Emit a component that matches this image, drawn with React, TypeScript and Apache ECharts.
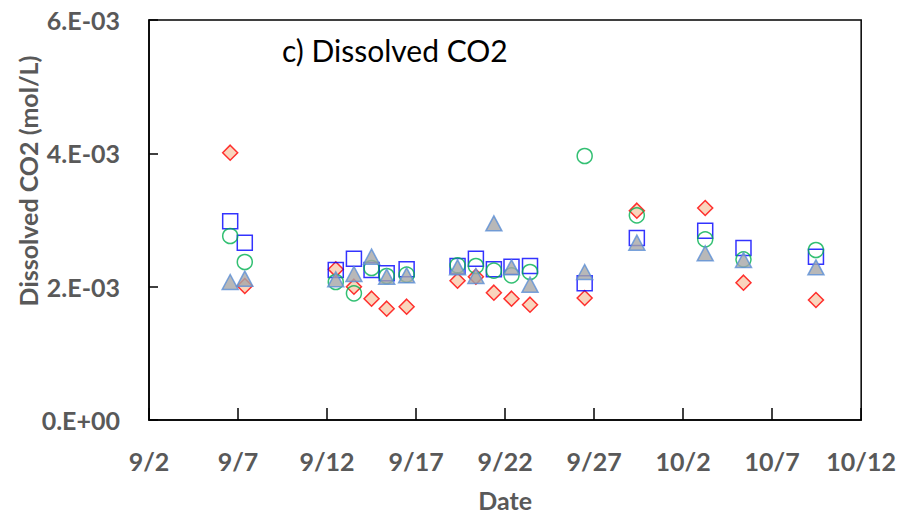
import React, { useEffect, useRef } from "react";
import * as echarts from "echarts";

// Sampling times, days since 9/2 (fractional = time of day)
const sampleDays = [4.56, 5.38, 10.49, 11.51, 12.5, 13.35, 14.47, 17.33, 18.36, 19.37, 20.36, 21.4, 24.47, 27.4, 31.24, 33.39, 37.46];

// Dissolved CO2 (mol/L), four sampling points
const seriesA = [4.01e-3, 2.01e-3, 2.26e-3, 2.0e-3, 1.82e-3, 1.67e-3, 1.7e-3, 2.09e-3, 2.15e-3, 1.91e-3, 1.82e-3, 1.73e-3, 1.83e-3, 3.14e-3, 3.18e-3, 2.06e-3, 1.8e-3];
const seriesB = [2.98e-3, 2.66e-3, 2.25e-3, 2.42e-3, 2.25e-3, 2.2e-3, 2.26e-3, 2.31e-3, 2.42e-3, 2.26e-3, 2.3e-3, 2.31e-3, 2.05e-3, 2.73e-3, 2.84e-3, 2.58e-3, 2.45e-3];
const seriesC = [2.76e-3, 2.37e-3, 2.07e-3, 1.9e-3, 2.28e-3, 2.16e-3, 2.18e-3, 2.32e-3, 2.31e-3, 2.24e-3, 2.17e-3, 2.22e-3, 3.96e-3, 3.07e-3, 2.71e-3, 2.41e-3, 2.55e-3];
const seriesD = [2.07e-3, 2.12e-3, 2.11e-3, 2.19e-3, 2.45e-3, 2.15e-3, 2.17e-3, 2.29e-3, 2.16e-3, 2.95e-3, 2.29e-3, 2.03e-3, 2.22e-3, 2.66e-3, 2.5e-3, 2.4e-3, 2.29e-3];

const xMin = 0;
const xMax = 40;
const xInterval = 5;
const yMin = 0;
const yMax = 6e-3;
const yInterval = 2e-3;
const startMonth = 8; // September (0-based)
const startDay = 2;

const FONT = "Lato";
const LABEL_COLOR = "#595959";

function sciLabel(v: number): string {
  if (Math.abs(v) < 1e-12) return "0.E+00";
  const exp = Math.floor(Math.log10(Math.abs(v)) + 1e-9);
  const mant = Math.round(v / Math.pow(10, exp));
  const sign = exp < 0 ? "-" : "+";
  const e = Math.abs(exp).toString().padStart(2, "0");
  return `${mant}.E${sign}${e}`;
}

function dateLabel(v: number): string {
  const d = new Date(2023, startMonth, startDay + Math.round(v));
  return `${d.getMonth() + 1}/${d.getDate()}`;
}

function pairs(vals: number[]) {
  return sampleDays.map((x, i) => [x, vals[i]]);
}

export default function App() {
  const ref = useRef<HTMLDivElement>(null);
  useEffect(() => {
    if (!ref.current) return;
    const chart = echarts.init(ref.current, undefined, { renderer: "svg" });
    const option: any = {
      animation: false,
      backgroundColor: "#ffffff",
      grid: {
        left: 149,
        right: 36,
        top: 20,
        bottom: 92,
        show: true,
        borderColor: "#000",
        borderWidth: 1.5,
        backgroundColor: "transparent",
      },
      xAxis: {
        type: "value",
        min: xMin,
        max: xMax,
        interval: xInterval,
        name: "Date",
        nameLocation: "middle",
        nameGap: 67,
        nameTextStyle: { fontFamily: FONT, fontWeight: "bold", fontSize: 25, color: LABEL_COLOR },
        axisLine: { show: true, lineStyle: { color: "#000", width: 1.5 } },
        axisTick: { show: true, inside: true, length: 12, lineStyle: { color: "#000", width: 1.5 } },
        splitLine: { show: false },
        axisLabel: {
          formatter: (v: number) => dateLabel(v),
          fontFamily: FONT,
          fontWeight: "bold",
          fontSize: 25,
          color: LABEL_COLOR,
          margin: 28,
        },
      },
      yAxis: {
        type: "value",
        min: yMin,
        max: yMax,
        interval: yInterval,
        axisLine: { show: true, lineStyle: { color: "#000", width: 1.5 } },
        axisTick: { show: true, inside: true, length: 9, lineStyle: { color: "#000", width: 1.5 } },
        splitLine: { show: false },
        axisLabel: {
          formatter: (v: number) => sciLabel(v),
          fontFamily: FONT,
          fontWeight: "bold",
          fontSize: 25,
          color: LABEL_COLOR,
          margin: 29,
        },
      },
      graphic: [
        {
          type: "text",
          left: 282,
          top: 35,
          style: { text: "c) Dissolved CO2", fontFamily: FONT, fontSize: 30, fill: "#000" },
        },
        {
          type: "text",
          x: 28,
          y: 181,
          rotation: Math.PI / 2,
          style: {
            text: "Dissolved CO2 (mol/L)",
            fontFamily: FONT,
            fontWeight: "bold",
            fontSize: 25,
            fill: LABEL_COLOR,
            align: "center",
            verticalAlign: "middle",
          },
        },
      ],
      series: [
        {
          type: "scatter",
          data: pairs(seriesA),
          symbol: "diamond",
          symbolSize: 15,
          itemStyle: { color: "#F8CBAD", borderColor: "#FF0000", borderWidth: 1.5 },
        },
        {
          type: "scatter",
          data: pairs(seriesB),
          symbol: "rect",
          symbolSize: 15,
          itemStyle: { color: "rgba(0,0,0,0)", borderColor: "#0000FF", borderWidth: 1.5 },
        },
        {
          type: "scatter",
          data: pairs(seriesC),
          symbol: "circle",
          symbolSize: 15,
          itemStyle: { color: "rgba(0,0,0,0)", borderColor: "#00B050", borderWidth: 1.5 },
        },
        {
          type: "scatter",
          data: pairs(seriesD),
          symbol: "triangle",
          symbolSize: [16, 15],
          itemStyle: { color: "#A6A6A6", borderColor: "#5B8FD6", borderWidth: 1.5 },
        },
      ],
    };
    chart.setOption(option);
    return () => chart.dispose();
  }, []);
  return <div ref={ref} style={{ width: 899, height: 517, position: "absolute", left: 0, top: 0 }} />;
}
